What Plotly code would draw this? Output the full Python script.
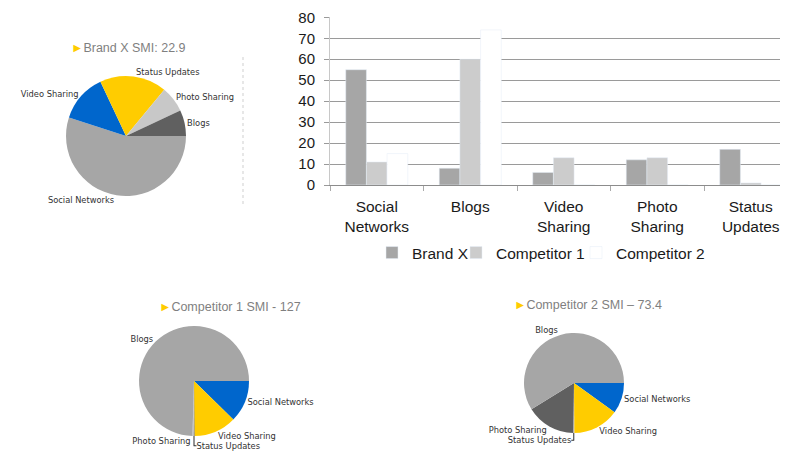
import plotly.graph_objects as go

# bar chart data
categories = ["Social Networks", "Blogs", "Video Sharing", "Photo Sharing", "Status Updates"]
tick_text = ["Social<br>Networks", "Blogs", "Video<br>Sharing", "Photo<br>Sharing", "Status<br>Updates"]
brand_x = [55, 8, 6, 12, 17]
competitor_1 = [11, 60, 13, 13, 1]
competitor_2 = [15, 74, 0, 0, 0]  # drawn in white, only hides grid lines

# pie data (share of mentions), clockwise from 3 o'clock
pie_labels = ["Social Networks", "Video Sharing", "Status Updates", "Photo Sharing", "Blogs"]
brand_x_share = [55, 13, 18, 7, 7]
competitor_1_share = [12.4, 12.6, 0.3, 0.3, 75]
competitor_2_share = [10, 15, 0.3, 16, 59]

pie_titles = ["Brand X SMI: 22.9", "Competitor 1 SMI - 127", "Competitor 2 SMI \u2013 73.4"]

W, H = 772, 454
OFF = 8  # page body margin; positions below are in screen pixels
GRAY, LIGHT, DARK, YELLOW, BLUE = "#a6a6a6", "#cccccc", "#606060", "#ffcc00", "#0066cc"


def px(x):
    return (x - OFF) / W


def py(y):
    return 1 - (y - OFF) / H


def dom_x(c, r):
    return [px(c - r), px(c + r)]


def dom_y(c, r):
    return [py(c + r), py(c - r)]


fig = go.Figure()

fig.add_trace(go.Bar(x=categories, y=brand_x, name="Brand X", marker_color=GRAY, legend="legend"))
fig.add_trace(go.Bar(x=categories, y=competitor_1, name="Competitor 1", marker_color=LIGHT, legend="legend2"))
fig.add_trace(go.Bar(x=categories, y=competitor_2, name="Competitor 2", marker_color="white", legend="legend3"))

pie_font = dict(family="DejaVu Sans", size=8.3, color="#333333")
pies = [
    (brand_x_share, [GRAY, BLUE, YELLOW, "#c8c8c8", DARK], 126, 136, 60),
    (competitor_1_share, [BLUE, YELLOW, DARK, "#c8c8c8", GRAY], 194, 381, 55),
    (competitor_2_share, [BLUE, YELLOW, "#c8c8c8", DARK, GRAY], 574, 383, 50),
]
for vals, cols, cx, cy, r in pies:
    fig.add_trace(go.Pie(
        labels=pie_labels, values=vals, sort=False,
        direction="clockwise", rotation=90,
        marker=dict(colors=cols, line=dict(width=0)),
        textposition="outside", textinfo="label",
        textfont=pie_font, showlegend=False,
        domain=dict(x=dom_x(cx, r), y=dom_y(cy, r)),
    ))

for txt, (x, y) in zip(pie_titles, [(128, 48), (230, 307), (588, 305)]):
    fig.add_annotation(
        x=px(x), y=py(y), xref="paper", yref="paper", showarrow=False,
        xanchor="center", yanchor="middle",
        text=f"<span style='color:{YELLOW}'>\u25ba</span>{txt}",
        font=dict(family="Arial", size=12.5, color="#7f7f7f"),
    )

# dotted separator beside the first pie
fig.add_shape(type="line", xref="paper", yref="paper",
              x0=px(243), x1=px(243), y0=py(57), y1=py(207),
              line=dict(color="#cfcfcf", width=1, dash="dot"))

legend_base = dict(orientation="h", yanchor="middle", y=py(253), xanchor="left",
                   font=dict(family="Arial", size=15.5, color="#1a1a1a"),
                   bgcolor="rgba(0,0,0,0)", itemclick=False)

# category width in the reference is about 93.5px, axis starts at x=330
cat_w = 93.5
fig.update_layout(
    width=W, height=H,
    margin=dict(l=0, r=0, t=0, b=0),
    paper_bgcolor="white", plot_bgcolor="white",
    barmode="group", bargap=0.337, bargroupgap=0,
    font=dict(family="Arial", color="#1a1a1a"),
    legend=dict(legend_base, x=px(372)),
    legend2=dict(legend_base, x=px(456)),
    legend3=dict(legend_base, x=px(576)),
    xaxis=dict(
        domain=[px(330), 1], range=[-0.5, -0.5 + (W + OFF - 330) / cat_w], automargin=False,
        tickvals=categories, ticktext=tick_text,
        tickson="boundaries", ticks="outside", ticklen=5, tickcolor="#aaaaaa",
        ticklabelstandoff=7,
        showline=True, linecolor="#8c8c8c", showgrid=False,
        tickfont=dict(family="Arial", size=15.5, color="#1a1a1a"),
    ),
    yaxis=dict(
        domain=[py(185), py(17.3)], range=[0, 80], dtick=10, automargin=False,
        showgrid=True, gridcolor="#9a9a9a", gridwidth=1, zeroline=False,
        showline=True, linecolor="#c8c8c8",
        ticks="outside", ticklen=5, tickcolor="#9a9a9a",
        ticklabelstandoff=6,
        tickfont=dict(family="Arial", size=15, color="#1a1a1a"),
    ),
)

fig.write_html("out.html")
